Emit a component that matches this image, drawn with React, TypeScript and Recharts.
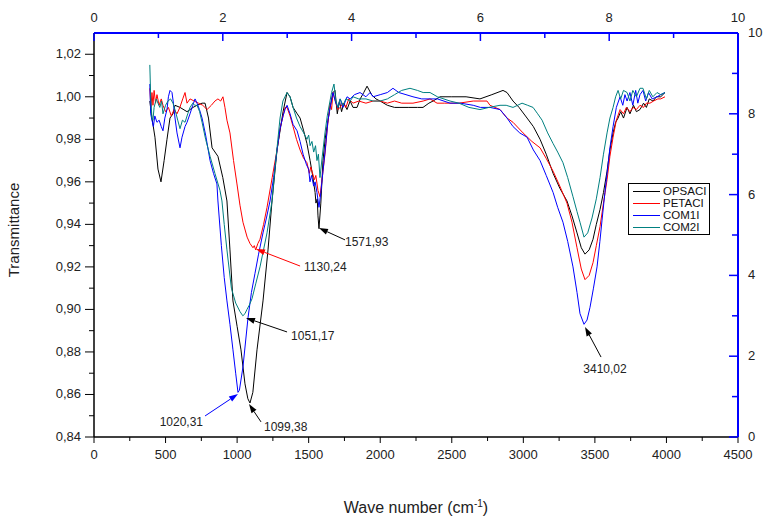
import { LineChart, Line, XAxis, YAxis, Legend, ReferenceLine } from "recharts";

// wave number (cm-1), transmittance
const opsaci: [number, number][] = [
  [390, 0.998], [405, 0.99], [426, 0.981], [447, 0.966], [468, 0.96], [490, 0.97], [510, 0.98], [531, 0.99],
  [552, 0.992], [566, 0.996], [601, 0.995], [650, 0.993], [692, 0.995], [720, 0.996], [755, 0.997], [776, 0.997],
  [800, 0.99], [825, 0.976], [866, 0.972], [900, 0.962], [929, 0.951], [950, 0.928], [971, 0.904], [1000, 0.892],
  [1027, 0.881], [1055, 0.865], [1075, 0.858], [1090, 0.856], [1110, 0.861], [1139, 0.881], [1181, 0.904],
  [1216, 0.928], [1244, 0.951], [1279, 0.975], [1321, 0.993], [1349, 1.002], [1370, 1.0], [1391, 0.995],
  [1420, 0.992], [1440, 0.99], [1465, 0.984], [1488, 0.978], [1510, 0.97], [1530, 0.962], [1545, 0.955],
  [1551, 0.95], [1560, 0.952], [1565, 0.944], [1572, 0.938], [1585, 0.95], [1600, 0.97], [1615, 0.98],
  [1628, 0.986], [1650, 0.995], [1670, 1.002], [1684, 1.003], [1700, 0.992], [1715, 0.998], [1730, 0.993],
  [1745, 0.997], [1768, 0.994], [1790, 0.998], [1810, 0.995], [1838, 0.995], [1860, 0.999], [1885, 1.002],
  [1908, 1.005], [1940, 1.001], [1970, 0.999], [1999, 0.998], [2050, 0.996], [2100, 0.995], [2138, 0.995],
  [2200, 0.995], [2260, 0.995], [2299, 0.995], [2340, 0.997], [2369, 0.998], [2418, 1.0], [2500, 1.0],
  [2600, 1.0], [2697, 0.999], [2780, 1.001], [2858, 1.003], [2886, 1.002], [2928, 0.998], [2970, 0.995],
  [3026, 0.99], [3070, 0.986], [3117, 0.98], [3160, 0.973], [3208, 0.964], [3255, 0.957], [3305, 0.951],
  [3340, 0.944], [3375, 0.936], [3405, 0.929], [3431, 0.926], [3460, 0.928], [3487, 0.933], [3510, 0.94],
  [3536, 0.947], [3560, 0.955], [3585, 0.965], [3605, 0.975], [3627, 0.983], [3645, 0.988], [3662, 0.99],
  [3680, 0.993], [3700, 0.99], [3725, 0.995], [3745, 0.992], [3770, 0.996], [3790, 0.993], [3815, 0.994],
  [3840, 0.997], [3860, 0.995], [3880, 0.999], [3906, 0.998], [3930, 1.0], [3960, 1.0], [3990, 1.002],
];

const petaci: [number, number][] = [
  [390, 1.004], [398, 0.995], [405, 1.002], [412, 0.996], [420, 1.003], [430, 0.997], [440, 1.001], [455, 0.996],
  [470, 0.999], [482, 0.996], [500, 0.993], [520, 0.995], [540, 0.991], [560, 0.994], [580, 0.992], [600, 0.995],
  [620, 0.999], [636, 1.002], [650, 0.997], [671, 0.999], [700, 0.998], [730, 0.997], [760, 0.996], [790, 0.994],
  [820, 0.996], [845, 0.998], [866, 0.999], [885, 0.998], [901, 1.0], [915, 0.995], [929, 0.989], [950, 0.983],
  [975, 0.97], [999, 0.959], [1020, 0.949], [1041, 0.941], [1070, 0.934], [1090, 0.931], [1111, 0.929],
  [1120, 0.93], [1130, 0.928], [1145, 0.931], [1160, 0.933], [1185, 0.94], [1209, 0.948], [1245, 0.962],
  [1279, 0.975], [1300, 0.985], [1321, 0.991], [1335, 0.995], [1349, 0.995], [1370, 0.991], [1391, 0.986],
  [1415, 0.98], [1440, 0.975], [1465, 0.971], [1488, 0.969], [1505, 0.964], [1515, 0.967], [1523, 0.965],
  [1540, 0.961], [1550, 0.963], [1565, 0.956], [1579, 0.953], [1595, 0.962], [1614, 0.973], [1630, 0.985],
  [1649, 0.997], [1660, 0.994], [1670, 1.002], [1690, 0.997], [1705, 0.994], [1719, 0.995], [1740, 0.997],
  [1760, 0.995], [1780, 0.999], [1810, 0.997], [1850, 0.998], [1900, 0.997], [1950, 0.998], [1999, 0.998],
  [2050, 0.997], [2100, 0.998], [2150, 0.997], [2229, 0.997], [2300, 0.998], [2348, 0.999], [2397, 0.997],
  [2450, 0.997], [2550, 0.997], [2650, 0.998], [2746, 0.998], [2767, 0.996], [2837, 0.994], [2886, 0.99],
  [2928, 0.988], [2998, 0.983], [3060, 0.979], [3117, 0.976], [3160, 0.971], [3208, 0.965], [3255, 0.958],
  [3305, 0.95], [3340, 0.941], [3375, 0.929], [3405, 0.919], [3431, 0.914], [3460, 0.916], [3487, 0.922],
  [3510, 0.93], [3536, 0.939], [3560, 0.95], [3585, 0.961], [3605, 0.972], [3627, 0.981], [3650, 0.989],
  [3676, 0.994], [3700, 0.992], [3720, 0.995], [3745, 0.993], [3767, 0.995], [3790, 0.994], [3815, 0.996],
  [3840, 0.995], [3860, 0.997], [3885, 0.997], [3910, 0.998], [3940, 0.999], [3960, 0.999], [3990, 1.0],
];

const com1i: [number, number][] = [
  [390, 1.006], [396, 0.992], [405, 0.989], [415, 0.986], [425, 0.991], [440, 0.988], [455, 0.989], [470, 0.986],
  [482, 0.984], [495, 0.99], [510, 0.994], [520, 1.0], [531, 1.003], [545, 1.002], [555, 0.997], [566, 0.99],
  [580, 0.983], [601, 0.976], [615, 0.981], [636, 0.986], [650, 0.988], [671, 0.992], [690, 0.996], [706, 0.999],
  [720, 0.997], [737, 0.994], [755, 0.99], [780, 0.982], [811, 0.97], [835, 0.964], [859, 0.959], [866, 0.951],
  [890, 0.93], [910, 0.915], [929, 0.904], [950, 0.893], [971, 0.881], [990, 0.87], [1006, 0.861], [1016, 0.862],
  [1041, 0.873], [1076, 0.896], [1100, 0.908], [1125, 0.917], [1150, 0.926], [1181, 0.936], [1205, 0.943],
  [1230, 0.951], [1255, 0.962], [1279, 0.975], [1300, 0.985], [1321, 0.991], [1335, 0.994], [1349, 0.996],
  [1370, 0.992], [1391, 0.987], [1419, 0.984], [1440, 0.979], [1461, 0.973], [1485, 0.968], [1500, 0.966],
  [1509, 0.96], [1520, 0.963], [1535, 0.958], [1545, 0.96], [1558, 0.955], [1572, 0.948], [1585, 0.955],
  [1600, 0.965], [1620, 0.978], [1635, 0.989], [1650, 0.995], [1670, 1.002], [1690, 0.997], [1705, 0.995],
  [1720, 0.999], [1740, 0.995], [1768, 1.0], [1790, 0.999], [1820, 1.001], [1859, 1.002], [1900, 1.0],
  [1929, 1.002], [1950, 1.0], [2000, 1.001], [2050, 1.002], [2089, 1.004], [2130, 1.002], [2180, 1.001],
  [2229, 1.0], [2290, 0.999], [2348, 0.999], [2400, 0.999], [2488, 0.997], [2560, 0.997], [2650, 0.996],
  [2700, 0.995], [2767, 0.995], [2837, 0.994], [2886, 0.99], [2928, 0.986], [2975, 0.983], [3026, 0.981],
  [3070, 0.975], [3117, 0.97], [3160, 0.963], [3208, 0.955], [3240, 0.948], [3277, 0.941], [3310, 0.932],
  [3347, 0.92], [3375, 0.908], [3396, 0.898], [3424, 0.893], [3445, 0.895], [3466, 0.901], [3490, 0.91],
  [3515, 0.92], [3535, 0.932], [3550, 0.942], [3570, 0.955], [3585, 0.964], [3605, 0.976], [3627, 0.986],
  [3650, 0.995], [3676, 1.0], [3695, 0.996], [3710, 1.001], [3725, 0.998], [3745, 1.002], [3765, 0.996],
  [3785, 1.003], [3800, 0.997], [3815, 1.001], [3836, 1.003], [3855, 0.998], [3875, 1.002], [3900, 0.999],
  [3934, 1.0], [3960, 1.001], [3990, 1.002],
];

const com2i: [number, number][] = [
  [390, 1.015], [396, 1.0], [405, 0.99], [412, 0.989], [420, 0.995], [435, 0.999], [447, 0.997], [460, 0.995],
  [472, 0.998], [482, 0.992], [500, 0.996], [517, 0.998], [535, 0.999], [552, 0.997], [570, 0.993], [585, 0.989],
  [601, 0.985], [618, 0.989], [636, 0.988], [655, 0.992], [671, 0.995], [690, 0.997], [705, 0.996], [720, 0.996],
  [738, 0.993], [755, 0.988], [780, 0.98], [811, 0.972], [845, 0.964], [880, 0.956], [894, 0.951], [910, 0.94],
  [929, 0.928], [960, 0.91], [990, 0.903], [1020, 0.899], [1040, 0.897], [1055, 0.898], [1069, 0.9],
  [1085, 0.902], [1104, 0.905], [1130, 0.912], [1160, 0.92], [1209, 0.936], [1244, 0.951], [1270, 0.97],
  [1300, 0.99], [1320, 0.998], [1349, 1.002], [1370, 1.0], [1391, 0.995], [1415, 0.99], [1440, 0.986],
  [1465, 0.983], [1488, 0.98], [1500, 0.982], [1510, 0.977], [1523, 0.979], [1535, 0.974], [1548, 0.977],
  [1558, 0.97], [1568, 0.973], [1579, 0.962], [1595, 0.972], [1614, 0.983], [1630, 0.991], [1649, 0.998],
  [1660, 1.002], [1677, 1.006], [1690, 0.998], [1705, 0.995], [1720, 0.999], [1740, 0.996], [1760, 0.999],
  [1790, 0.998], [1810, 1.0], [1850, 0.999], [1900, 0.999], [1950, 0.998], [1999, 0.998], [2050, 0.999],
  [2100, 1.001], [2150, 1.003], [2208, 1.004], [2260, 1.003], [2300, 1.002], [2348, 1.002], [2400, 1.0],
  [2488, 0.998], [2550, 0.997], [2620, 0.995], [2697, 0.994], [2760, 0.995], [2837, 0.996], [2880, 0.996],
  [2928, 0.995], [2960, 0.996], [2991, 0.997], [3030, 0.996], [3068, 0.995], [3100, 0.992], [3131, 0.989],
  [3170, 0.983], [3208, 0.978], [3240, 0.974], [3277, 0.969], [3310, 0.962], [3347, 0.953], [3375, 0.946],
  [3396, 0.941], [3424, 0.934], [3450, 0.936], [3480, 0.943], [3510, 0.952], [3536, 0.962], [3560, 0.973],
  [3585, 0.983], [3605, 0.99], [3627, 0.995], [3645, 1.0], [3662, 1.003], [3680, 0.999], [3700, 1.003],
  [3725, 1.002], [3745, 0.998], [3765, 1.003], [3790, 1.0], [3815, 1.004], [3836, 1.004], [3860, 0.999],
  [3880, 1.003], [3905, 1.0], [3934, 1.002], [3960, 1.001], [3990, 1.002],
];

const seriesNames = ["OPSACI", "PETACI", "COM1I", "COM2I"];
const seriesColors = ["#000000", "#ff0000", "#0000ff", "#008080"];
const seriesPoints = [opsaci, petaci, com1i, com2i];

const bottomTicks = [0, 250, 500, 750, 1000, 1250, 1500, 1750, 2000, 2250, 2500, 2750, 3000, 3250, 3500, 3750, 4000, 4250, 4500];
const leftTicks = [0.84, 0.85, 0.86, 0.87, 0.88, 0.89, 0.9, 0.91, 0.92, 0.93, 0.94, 0.95, 0.96, 0.97, 0.98, 0.99, 1.0, 1.01, 1.02];
const topTicks = [0, 1, 2, 3, 4, 5, 6, 7, 8, 9, 10];
const rightTicks = [0, 1, 2, 3, 4, 5, 6, 7, 8, 9, 10];

// marked peaks: label, tip (the peak) and tail of the arrow, in data units
const peakLabels = ["1571,93", "1130,24", "1051,17", "1020,31", "1099,38", "3410,02"];
const peakTips: [number, number][] = [[1572, 0.9383], [1132, 0.9284], [1062, 0.896], [1006, 0.8602], [1083, 0.8555], [3431, 0.8917]];
const peakTails: [number, number][] = [[1754, 0.9327], [1440, 0.9204], [1349, 0.8894], [776, 0.8499], [1167, 0.8471], [3543, 0.8776]];
const peakColors = ["#000000", "#ff0000", "#000000", "#0000ff", "#000000", "#000000"];
const labelPlacement = [
  { anchor: "start", dx: 0, dy: 6 },
  { anchor: "start", dx: 4, dy: 5 },
  { anchor: "start", dx: 4, dy: 8 },
  { anchor: "end", dx: -2, dy: 10 },
  { anchor: "start", dx: 3, dy: 9 },
  { anchor: "middle", dx: 4, dy: 16 },
];

const FONT = "'Liberation Sans', Arial, sans-serif";

const fmtComma = (v: number) => v.toFixed(2).replace(".", ",");

function LeftTick({ x, y, payload }: any) {
  const v = payload.value;
  const major = Math.round(v * 100) % 2 === 0;
  return (
    <g>
      <line x1={x - (major ? 9 : 5)} y1={y} x2={x} y2={y} stroke="#000" />
      {major && (
        <text x={x - 13} y={y + 4} textAnchor="end" fontSize={13} fontFamily={FONT} fill="#222">
          {fmtComma(v)}
        </text>
      )}
    </g>
  );
}

function BottomTick({ x, y, payload }: any) {
  const v = payload.value;
  const major = v % 500 === 0;
  return (
    <g>
      <line x1={x} y1={y} x2={x} y2={y + (major ? 6 : 4)} stroke="#000" />
      {major && (
        <text x={x} y={y + 22} textAnchor="middle" fontSize={13} fontFamily={FONT} fill="#222">
          {v}
        </text>
      )}
    </g>
  );
}

function TopTick({ x, y, payload }: any) {
  const v = payload.value;
  const major = v % 2 === 0;
  return (
    <g>
      <line x1={x} y1={y} x2={x} y2={y + (major ? 8 : 5)} stroke="#0000ff" strokeWidth={1.5} />
      {major && (
        <text x={x} y={y - 11} textAnchor="middle" fontSize={13} fontFamily={FONT} fill="#222">
          {v}
        </text>
      )}
    </g>
  );
}

function RightTick({ x, y, payload }: any) {
  const v = payload.value;
  const major = v % 2 === 0;
  return (
    <g>
      <line x1={x - (major ? 9 : 6)} y1={y} x2={x} y2={y} stroke="#0000ff" strokeWidth={1.5} />
      {major && (
        <text x={x + 10} y={y + 4} textAnchor="start" fontSize={13} fontFamily={FONT} fill="#222">
          {v}
        </text>
      )}
    </g>
  );
}

function arrowShape(i: number) {
  return (p: any) => {
    const { x1, y1, x2, y2 } = p;
    const color = peakColors[i];
    const ang = Math.atan2(y2 - y1, x2 - x1);
    const len = 9;
    const half = 3;
    const bx = x2 - len * Math.cos(ang);
    const by = y2 - len * Math.sin(ang);
    const px = -Math.sin(ang) * half;
    const py = Math.cos(ang) * half;
    const place = labelPlacement[i];
    return (
      <g>
        <line x1={x1} y1={y1} x2={bx} y2={by} stroke={color} strokeWidth={1} />
        <polygon points={`${x2},${y2} ${bx + px},${by + py} ${bx - px},${by - py}`} fill={color} />
        <text
          x={x1 + place.dx}
          y={y1 + place.dy}
          textAnchor={place.anchor}
          fontSize={12}
          fontFamily={FONT}
          fill="#222"
        >
          {peakLabels[i]}
        </text>
      </g>
    );
  };
}

function LegendBox() {
  return (
    <div
      style={{
        border: "1px solid #000",
        background: "#fff",
        padding: "1px 3px 1px 4px",
        fontFamily: FONT,
        fontSize: 11.5,
        lineHeight: "12px",
      }}
    >
      {seriesNames.map((n, i) => (
        <div key={n} style={{ display: "flex", alignItems: "center", height: 12 }}>
          <span style={{ display: "inline-block", width: 27, height: 1, background: seriesColors[i], marginRight: 3 }} />
          <span style={{ color: "#111" }}>{n}</span>
        </div>
      ))}
    </div>
  );
}

export default function App() {
  return (
    <div style={{ position: "absolute", left: 0, top: 0, width: 771, height: 529, background: "#fff" }}>
      <LineChart width={771} height={529} margin={{ top: 0, right: 0, bottom: 0, left: 0 }}>
        <XAxis
          xAxisId="bottom"
          dataKey="x"
          type="number"
          domain={[0, 4500]}
          ticks={bottomTicks}
          interval={0}
          allowDataOverflow
          height={92}
          tickSize={0}
          tickMargin={0}
          tickLine={false}
          axisLine={{ stroke: "#000", strokeWidth: 1.5 }}
          tick={(p: any) => <BottomTick {...p} />}
          label={{
            content: ({ viewBox }: any) => (
              <text x={viewBox.x + viewBox.width / 2} y={viewBox.y + 76} textAnchor="middle" fontSize={16} fontFamily={FONT} fill="#222">
                Wave number (cm
                <tspan dy={-6} fontSize={10}>-1</tspan>
                <tspan dy={6}>)</tspan>
              </text>
            ),
          }}
        />
        <XAxis
          xAxisId="top"
          orientation="top"
          dataKey="x"
          type="number"
          domain={[0, 10]}
          ticks={topTicks}
          interval={0}
          allowDataOverflow
          height={33}
          tickSize={0}
          tickMargin={0}
          tickLine={false}
          axisLine={{ stroke: "#0000ff", strokeWidth: 2 }}
          tick={(p: any) => <TopTick {...p} />}
        />
        <YAxis
          yAxisId="left"
          type="number"
          domain={[0.84, 1.03]}
          ticks={leftTicks}
          interval={0}
          allowDataOverflow
          width={94}
          tickSize={0}
          tickMargin={0}
          tickLine={false}
          axisLine={{ stroke: "#000", strokeWidth: 1.5 }}
          tick={(p: any) => <LeftTick {...p} />}
          label={{
            content: ({ viewBox }: any) => {
              const cx = 19;
              const cy = viewBox.y + viewBox.height / 2 - 5;
              return (
                <text x={cx} y={cy} transform={`rotate(-90 ${cx} ${cy})`} textAnchor="middle" fontSize={15} fontFamily={FONT} fill="#222">
                  Transmittance
                </text>
              );
            },
          }}
        />
        <YAxis
          yAxisId="right"
          orientation="right"
          type="number"
          domain={[0, 10]}
          ticks={rightTicks}
          interval={0}
          allowDataOverflow
          width={33}
          tickSize={0}
          tickMargin={0}
          tickLine={false}
          axisLine={{ stroke: "#0000ff", strokeWidth: 2 }}
          tick={(p: any) => <RightTick {...p} />}
        />
        {seriesPoints.map((pts, i) => (
          <Line
            key={seriesNames[i]}
            name={seriesNames[i]}
            xAxisId="bottom"
            yAxisId="left"
            data={pts.map(([x, y]) => ({ x, y }))}
            dataKey="y"
            type="linear"
            stroke={seriesColors[i]}
            strokeWidth={1}
            dot={false}
            isAnimationActive={false}
          />
        ))}
        {peakLabels.map((lab, i) => (
          <ReferenceLine
            key={lab}
            xAxisId="bottom"
            yAxisId="left"
            segment={[
              { x: peakTails[i][0], y: peakTails[i][1] },
              { x: peakTips[i][0], y: peakTips[i][1] },
            ]}
            shape={arrowShape(i)}
          />
        ))}
        <Legend
          layout="vertical"
          align="center"
          verticalAlign="middle"
          wrapperStyle={{ left: 628, top: 183, width: "auto" }}
          content={() => <LegendBox />}
        />
      </LineChart>
    </div>
  );
}
